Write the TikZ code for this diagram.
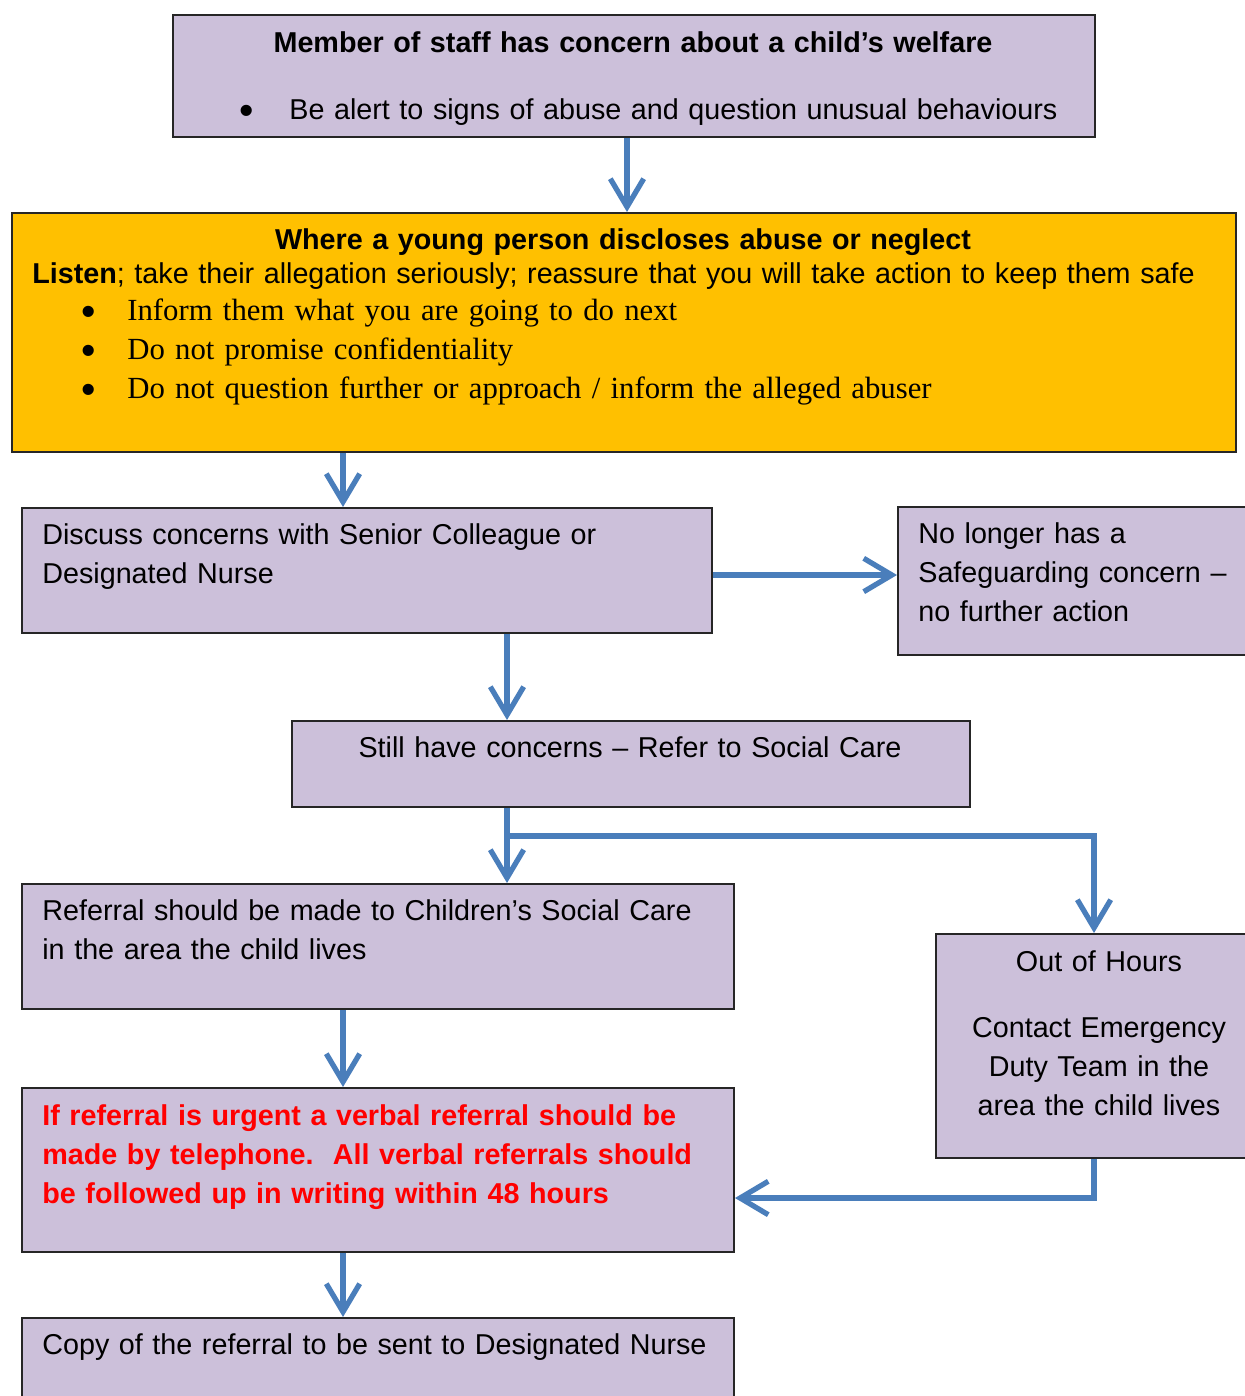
\documentclass[tikz,border=0pt]{standalone}
\usepackage{fontspec}
\setmainfont{Liberation Sans}
\newfontfamily\serifbullets{Liberation Serif}
\definecolor{boxlilac}{RGB}{204, 192, 218}
\definecolor{alertorange}{RGB}{255, 192, 0}
\definecolor{arrowblue}{RGB}{74, 126, 187}
\definecolor{urgentred}{RGB}{255, 0, 0}
\usetikzlibrary{arrows.meta, calc}
\newcommand{\bodyfont}{\fontsize{16.35pt}{22.2pt}\selectfont}
\newcommand{\bulletfont}{\serifbullets\fontsize{17.5pt}{22.2pt}\selectfont}
\newcommand{\bigbullet}[1]{\makebox[#1][l]{\raisebox{-3pt}{\fontspec{Liberation Sans}\fontsize{23.4pt}{23.4pt}\selectfont\textbullet}}}

\tikzset{
  flowbox/.style={draw=black!85, line width=1.2pt, fill=boxlilac, anchor=north west, inner sep=0pt},
  boxtext/.style={inner sep=0pt, anchor=base west, align=left, text width=#1, font=\bodyfont},
  boxtitle/.style={inner sep=0pt, anchor=base, align=center, text width=#1, font=\bodyfont},
  flowarrow/.style={draw=arrowblue, line width=3pt, -{Straight Barb[length=16pt, width=19pt]}},
}

\begin{document}
\begin{tikzpicture}[x=0.02cm, y=-0.02cm]
  \fill[white] (0,0) rectangle (1244,1396);
  \useasboundingbox (0,0) rectangle (1244,1396);

  \node[flowbox, minimum width=18.44cm, minimum height=2.44cm] (staff) at (172,14) {};
  \node[flowbox, fill=alertorange, minimum width=24.48cm, minimum height=4.78cm] (disclose) at (11,212) {};
  \node[flowbox, minimum width=13.8cm, minimum height=2.5cm] (discuss) at (21,507) {};
  \node[flowbox, minimum width=7.26cm, minimum height=2.96cm] (nolonger) at (897,506) {};
  \node[flowbox, minimum width=13.56cm, minimum height=1.72cm] (refer) at (291,720) {};
  \node[flowbox, minimum width=14.24cm, minimum height=2.5cm] (social) at (21,883) {};
  \node[flowbox, minimum width=6.32cm, minimum height=4.48cm] (ooh) at (935,933) {};
  \node[flowbox, minimum width=14.24cm, minimum height=3.28cm] (urgent) at (21,1087) {};
  \node[flowbox, minimum width=14.24cm, minimum height=2.26cm] (copy) at (21,1317) {};

  \node[boxtitle=18cm, font=\bodyfont\bfseries] (stafftitle) at (633,52) {Member of staff has concern about a child’s welfare};
  \node[boxtext=18cm] (staffbullet) at (239,119) {\bigbullet{1cm}Be alert to signs of abuse and question unusual behaviours};

  \node[boxtitle=23cm, font=\bodyfont\bfseries] (disclosetitle) at (623,249) {Where a young person discloses abuse or neglect};
  \node[boxtext=24cm] (listen) at (32,283) {\textbf{Listen}; take their allegation seriously; reassure that you will take action to keep them safe};
  \node[boxtext=22cm, font=\bulletfont] (listenbullets) at (81,320) {\bigbullet{0.92cm}Inform them what you are going to do next\\
    \bigbullet{0.92cm}Do not promise confidentiality\\
    \bigbullet{0.92cm}Do not question further or approach / inform the alleged abuser};

  \node[boxtext=13cm] (discusstext) at (42,544) {Discuss concerns with Senior Colleague or\\Designated Nurse};
  \node[boxtext=6.5cm] (nolongertext) at (918,543) {No longer has a\\Safeguarding concern --\\no further action};
  \node[boxtitle=13cm] (refertext) at (630,757) {Still have concerns -- Refer to Social Care};
  \node[boxtext=14cm] (socialtext) at (42,920) {Referral should be made to Children’s Social Care\\in the area the child lives};
  \node[boxtitle=6.2cm] (oohtext) at (1099,971) {Out of Hours\\[0.54cm]Contact Emergency\\Duty Team in the\\area the child lives};
  \node[boxtext=14cm, font=\bodyfont\bfseries, text=urgentred] (urgenttext) at (42,1125) {If referral is urgent a verbal referral should be\\made by telephone.\ \ All verbal referrals should\\be followed up in writing within 48 hours};
  \node[boxtext=14cm] (copytext) at (42,1354) {Copy of the referral to be sent to Designated Nurse};

  \coordinate (toparrow) at (627,0);
  \coordinate (leftline) at (343,0);
  \coordinate (midline) at (507,0);
  \coordinate (sideline) at (0,575);
  \coordinate (forkline) at (0,836);
  \coordinate (backline) at (0,1198);

  \draw[flowarrow] (staff.south -| toparrow) -- (disclose.north -| toparrow);
  \draw[flowarrow] (disclose.south -| leftline) -- (discuss.north -| leftline);
  \draw[flowarrow] (discuss.east |- sideline) -- (nolonger.west |- sideline);
  \draw[flowarrow] (discuss.south -| midline) -- (refer.north -| midline);
  \draw[flowarrow] (refer.south -| midline) -- (social.north -| midline);
  \draw[flowarrow] (midline |- forkline) -| (ooh.north);
  \draw[flowarrow] (social.south -| leftline) -- (urgent.north -| leftline);
  \draw[flowarrow] (ooh.south) |- (urgent.east |- backline);
  \draw[flowarrow] (urgent.south -| leftline) -- (copy.north -| leftline);
\end{tikzpicture}
\end{document}
